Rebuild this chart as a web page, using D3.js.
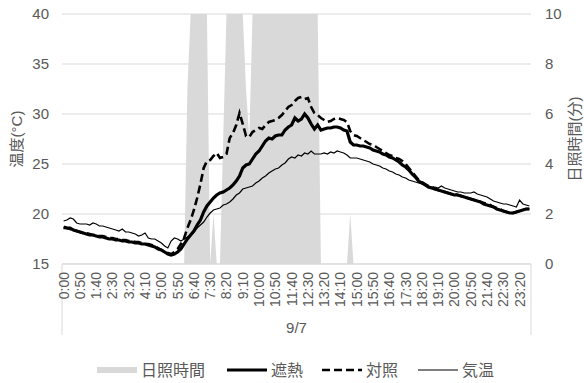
<!DOCTYPE html>
<html>
<head>
<meta charset="utf-8">
<script src="https://cdn.jsdelivr.net/npm/d3@7"></script>
<style>
  body { margin: 0; background: #fff; }
  text { font-family: "Liberation Sans", "Noto Sans CJK JP", sans-serif; fill: #595959; }
</style>
</head>
<body>
<script>
// 10-minute slots over one day
const times = d3.range(144).map(i => Math.floor(i / 6) + ":" + String((i % 6) * 10).padStart(2, "0"));
const tickLabels = ["0:00","0:50","1:40","2:30","3:20","4:10","5:00","5:50","6:40","7:30","8:20","9:10","10:00","10:50",
  "11:40","12:30","13:20","14:10","15:00","15:50","16:40","17:30","18:20","19:10","20:00","20:50","21:40","22:30","23:20"];
const dateLabel = "9/7";
const tempTicks = [15, 20, 25, 30, 35, 40];
const sunTicks = [0, 2, 4, 6, 8, 10];

// 日照時間 (minutes per 10 min)
const sunshine = [
  0,0,0,0,0,0,0,0,0,0,0,0,
  0,0,0,0,0,0,0,0,0,0,0,0,
  0,0,0,0,0,0,0,0,0,0,0,0,
  0,0,7,10,10,10,10,10,10,0,2,0,
  0,5,10,10,10,10,10,10,7,5,10,10,
  10,10,10,10,10,10,10,10,10,10,10,10,
  10,10,10,10,10,10,10,0,0,0,0,0,
  0,0,0,0,2,0,0,0,0,0,0,0,
  0,0,0,0,0,0,0,0,0,0,0,0,
  0,0,0,0,0,0,0,0,0,0,0,0,
  0,0,0,0,0,0,0,0,0,0,0,0,
  0,0,0,0,0,0,0,0,0,0,0,0
];

// 遮熱
const shade = [
  18.7,18.6,18.6,18.4,18.3,18.2,18.1,18.0,17.9,17.9,17.8,17.7,
  17.7,17.6,17.5,17.5,17.4,17.4,17.3,17.3,17.2,17.2,17.1,17.1,
  17.0,17.0,16.9,16.8,16.7,16.5,16.4,16.2,16.0,15.9,16.0,16.2,
  16.5,17.0,17.5,17.9,18.3,18.9,19.4,20.2,20.8,21.2,21.6,21.9,
  22.1,22.2,22.4,22.6,22.9,23.3,23.8,24.6,24.9,25.0,25.5,26.0,
  26.3,26.8,27.3,27.6,27.5,27.8,27.9,27.9,28.4,28.7,28.9,29.6,
  29.3,29.5,30.0,29.6,29.0,28.5,28.9,28.4,28.5,28.6,28.6,28.7,
  28.7,28.6,28.4,28.3,27.2,26.9,26.9,26.8,26.8,26.7,26.6,26.4,
  26.3,26.2,26.0,25.9,25.7,25.6,25.4,25.2,24.9,24.7,24.4,24.0,
  23.7,23.3,23.1,22.9,22.7,22.6,22.5,22.4,22.3,22.2,22.1,22.0,
  21.9,21.9,21.8,21.7,21.6,21.5,21.4,21.3,21.2,21.0,20.9,20.8,
  20.7,20.5,20.4,20.3,20.2,20.1,20.1,20.2,20.3,20.4,20.5,20.5
];

// 対照
const control = [
  18.6,18.6,18.5,18.4,18.3,18.2,18.1,18.1,18.0,17.9,17.9,17.8,
  17.8,17.7,17.6,17.6,17.5,17.5,17.4,17.4,17.3,17.3,17.2,17.2,
  17.1,17.0,17.0,16.9,16.8,16.6,16.4,16.2,16.1,16.0,16.2,16.5,
  17.0,17.6,18.6,19.4,20.4,21.6,23.0,24.6,25.3,25.4,25.8,26.1,
  25.6,25.7,26.0,27.6,28.1,28.9,30.1,29.0,27.8,27.7,28.2,28.4,
  28.6,28.5,28.9,29.2,29.3,29.4,29.6,29.9,30.3,30.7,30.9,31.3,
  31.6,31.7,31.5,31.6,30.7,30.1,29.9,29.6,29.4,29.2,29.3,29.5,
  29.6,29.5,29.4,29.2,28.3,27.9,27.8,27.6,27.4,27.2,27.0,26.9,
  26.7,26.5,26.3,26.1,25.9,25.8,25.6,25.5,25.3,25.0,24.6,24.2,
  23.8,23.4,23.2,23.0,22.8,22.7,22.5,22.4,22.3,22.2,22.1,22.0,
  22.0,21.9,21.8,21.7,21.6,21.5,21.4,21.3,21.2,21.1,21.0,20.9,
  20.7,20.6,20.5,20.3,20.2,20.1,20.1,20.2,20.3,20.4,20.5,20.5
];

// 気温
const airTemp = [
  19.3,19.4,19.6,19.5,19.1,19.0,19.0,19.0,18.9,19.1,19.0,18.8,
  18.8,18.7,18.6,18.5,18.4,18.3,18.5,18.2,18.2,18.1,18.0,17.8,
  17.9,18.1,17.6,17.5,17.5,17.3,17.1,16.8,16.6,17.3,17.6,17.5,
  17.3,17.5,17.7,17.9,18.2,18.6,18.9,19.2,19.7,20.1,20.4,20.5,
  20.6,20.9,21.0,21.2,21.5,21.9,22.1,22.5,22.6,22.7,22.8,23.1,
  23.3,23.6,23.8,24.1,24.3,24.5,24.6,24.9,25.1,25.5,25.7,25.6,
  25.9,25.8,26.1,26.0,26.3,26.0,26.0,26.0,26.1,26.0,26.2,26.1,
  26.3,26.2,26.1,25.9,25.6,25.6,25.6,25.5,25.4,25.3,25.2,25.0,
  24.9,24.8,24.6,24.5,24.3,24.2,24.0,23.9,23.7,23.6,23.4,23.3,
  23.2,23.1,23.0,22.9,22.8,22.7,22.7,22.6,22.8,22.6,22.5,22.4,
  22.3,22.2,22.2,22.1,22.1,22.1,22.2,22.0,21.9,21.8,21.7,21.5,
  21.3,21.2,21.1,21.0,21.0,20.9,20.8,20.7,21.4,21.0,20.9,20.8
];

const W = 584, H = 383;
const plotL = 62, plotR = 531, plotT = 14, plotB = 264;
const grid = "#d9d9d9";

const svg = d3.select("body").append("svg")
  .attr("width", W)
  .attr("height", H);

const x = d3.scaleBand().domain(times).range([plotL, plotR]);
const cx = d => x(d) + x.bandwidth() / 2;
const y = d3.scaleLinear().domain([15, 40]).range([plotB, plotT]);
const y2 = d3.scaleLinear().domain([0, 10]).range([plotB, plotT]);

// gridlines
svg.append("g").selectAll("line")
  .data(tempTicks)
  .enter().append("line")
  .attr("x1", plotL).attr("x2", plotR)
  .attr("y1", d => y(d)).attr("y2", d => y(d))
  .attr("stroke", grid).attr("stroke-width", 1);

// sunshine area (secondary axis)
const area = d3.area()
  .x((d, i) => cx(times[i]))
  .y0(y2(0))
  .y1(d => y2(d));
svg.append("path")
  .datum(sunshine)
  .attr("d", area)
  .attr("fill", "#d9d9d9");

// category box below the plot
svg.append("line").attr("x1", plotL).attr("x2", plotL).attr("y1", plotB).attr("y2", 335).attr("stroke", grid);
svg.append("line").attr("x1", plotR).attr("x2", plotR).attr("y1", plotB).attr("y2", 335).attr("stroke", grid);
svg.append("line").attr("x1", plotL).attr("x2", plotR).attr("y1", plotB).attr("y2", plotB).attr("stroke", grid);

// temperature lines
const line = d3.line().x((d, i) => cx(times[i])).y(d => y(d));
svg.append("path").datum(airTemp).attr("d", line)
  .attr("fill", "none").attr("stroke", "#000").attr("stroke-width", 1.2);
svg.append("path").datum(control).attr("d", line)
  .attr("fill", "none").attr("stroke", "#000").attr("stroke-width", 2.6)
  .attr("stroke-dasharray", "8,4");
svg.append("path").datum(shade).attr("d", line)
  .attr("fill", "none").attr("stroke", "#000").attr("stroke-width", 3.2);

// left axis
const yAxis = d3.axisLeft(y).tickValues(tempTicks).tickSize(0).tickPadding(13);
const gY = svg.append("g").attr("transform", "translate(" + plotL + ",0)").call(yAxis);
gY.select(".domain").remove();
gY.selectAll("text").style("font-size", "15px");

// right axis
const yAxis2 = d3.axisRight(y2).tickValues(sunTicks).tickSize(0).tickPadding(14);
const gY2 = svg.append("g").attr("transform", "translate(" + plotR + ",0)").call(yAxis2);
gY2.select(".domain").remove();
gY2.selectAll("text").style("font-size", "15px");

// x axis, every 5th slot
const xAxis = d3.axisBottom(x).tickValues(tickLabels).tickSize(0);
const gX = svg.append("g").attr("transform", "translate(0," + plotB + ")").call(xAxis);
gX.select(".domain").remove();
gX.selectAll("text")
  .attr("transform", "rotate(-90)")
  .attr("x", -8)
  .attr("y", 0)
  .attr("dy", "0.35em")
  .style("text-anchor", "end")
  .style("font-size", "14px");

svg.append("text")
  .attr("x", (plotL + plotR) / 2)
  .attr("y", 333)
  .attr("text-anchor", "middle")
  .style("font-size", "15px")
  .text(dateLabel);

// axis titles
svg.append("text")
  .attr("transform", "translate(17," + (plotT + plotB) / 2 + ") rotate(-90)")
  .attr("text-anchor", "middle")
  .attr("dy", "0.35em")
  .style("font-size", "15px")
  .text("温度(°C)");
svg.append("text")
  .attr("transform", "translate(575," + (plotT + plotB) / 2 + ") rotate(-90)")
  .attr("text-anchor", "middle")
  .attr("dy", "0.35em")
  .style("font-size", "15px")
  .text("日照時間(分)");

// legend
const legend = [
  { name: "日照時間", x: 97, kind: "area" },
  { name: "遮熱", x: 227, kind: "thick" },
  { name: "対照", x: 322, kind: "dash" },
  { name: "気温", x: 418, kind: "thin" }
];
const ly = 370;
legend.forEach(d => {
  if (d.kind == "area") {
    svg.append("rect").attr("x", d.x).attr("y", ly - 3).attr("width", 40).attr("height", 6).attr("fill", "#d9d9d9");
  } else {
    svg.append("line")
      .attr("x1", d.x).attr("x2", d.x + 40).attr("y1", ly).attr("y2", ly)
      .attr("stroke", "#000")
      .attr("stroke-width", d.kind == "thick" ? 3.2 : d.kind == "dash" ? 2.6 : 1.2)
      .attr("stroke-dasharray", d.kind == "dash" ? "8,4" : null);
  }
  svg.append("text")
    .attr("x", d.x + 44)
    .attr("y", ly)
    .attr("dy", "0.35em")
    .style("font-size", "16px")
    .text(d.name);
});
</script>
</body>
</html>
